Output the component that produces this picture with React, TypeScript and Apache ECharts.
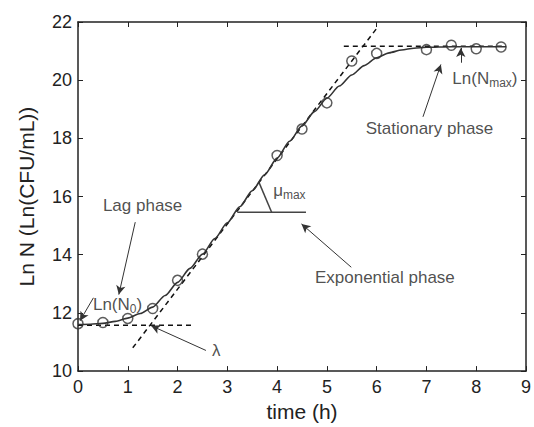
import React, { useEffect, useRef } from "react";
import * as echarts from "echarts";

// Observed data (circles)
const timeObs = [0, 0.5, 1, 1.5, 2, 2.5, 4, 4.5, 5, 5.5, 6, 7, 7.5, 8, 8.5];
const lnNObs = [11.63, 11.67, 11.81, 12.15, 13.12, 14.02, 17.41, 18.32, 19.22, 20.66, 20.92, 21.05, 21.2, 21.08, 21.14];

// Fitted growth curve (solid line)
const timeFit = [0, 0.25, 0.5, 0.75, 1, 1.25, 1.5, 1.75, 2, 2.25, 2.5, 2.75, 3, 3.25, 3.5, 3.75, 4, 4.25, 4.5, 4.75, 5, 5.25, 5.5, 5.75, 6, 6.25, 6.5, 6.75, 7, 7.5, 8, 8.6];
const lnNFit = [11.6, 11.61, 11.64, 11.71, 11.82, 11.98, 12.2, 12.6, 13.05, 13.53, 14.02, 14.56, 15.1, 15.65, 16.2, 16.75, 17.32, 17.9, 18.43, 18.92, 19.38, 19.8, 20.18, 20.5, 20.77, 20.94, 21.04, 21.1, 21.13, 21.15, 21.15, 21.15];

// Construction lines
const tangentX = [1.1, 6.0];
const tangentY = [10.8, 21.78];
const lagLineX = [0, 2.34];
const lagLineY = [11.58, 11.58];
const maxLineX = [5.34, 8.6];
const maxLineY = [21.17, 21.17];
const muBaseX = [3.2, 4.58];
const muBaseY = [15.46, 15.46];
const muArcX = [3.64, 3.89];
const muArcY = [16.47, 15.46];

// Axis ticks
const xTicks = { min: 0, max: 9, step: 1 };
const yTicks = { min: 10, max: 22, step: 2 };

// Annotation arrows: [fromX, fromY, toX, toY]
const arrows = [
  [1.15, 15.12, 0.82, 12.63],
  [0.31, 12.52, 0.04, 11.73],
  [2.57, 10.71, 1.47, 11.56],
  [5.49, 13.57, 4.49, 15.06],
  [6.93, 18.74, 7.29, 20.54],
  [7.69, 20.6, 7.69, 21.11],
];

// Annotation labels: [x, y, rich text]
const annotations: [number, number, string][] = [
  [0.5, 15.69, "{n|Lag phase}"],
  [0.3, 12.29, "{n|Ln(N}{s|0}{n|)}"],
  [2.69, 10.71, "{n|λ}"],
  [3.92, 16.22, "{n|μ}{s|max}"],
  [4.76, 13.23, "{n|Exponential phase}"],
  [5.78, 18.34, "{n|Stationary phase}"],
  [7.52, 20.06, "{n|Ln(N}{s|max}{n|)}"],
];

const FONT = "'Liberation Sans', Arial, Helvetica, sans-serif";
const INK = "#222";

const zip = (xs: number[], ys: number[]) => xs.map((x, i) => [x, ys[i]]);

export default function App() {
  const ref = useRef<HTMLDivElement>(null);

  useEffect(() => {
    if (!ref.current) return;
    const chart = echarts.init(ref.current, undefined, { renderer: "svg" });

    const axisLine = { show: true, onZero: false, lineStyle: { color: INK, width: 1.5 } };
    const axisTick = { show: true, inside: true, length: 5, lineStyle: { color: INK, width: 1 } };

    const dashed = (xs: number[], ys: number[]) => ({
      type: "line",
      data: zip(xs, ys),
      symbol: "none",
      silent: true,
      lineStyle: { color: "#111", width: 1.5, type: [5, 4] },
      z: 3,
    });
    const solid = (xs: number[], ys: number[]) => ({
      type: "line",
      data: zip(xs, ys),
      symbol: "none",
      silent: true,
      lineStyle: { color: "#444", width: 1.5 },
      z: 3,
    });

    chart.setOption({
      animation: false,
      grid: { left: 78, right: 4, top: 22, bottom: 51, containLabel: false },
      xAxis: [
        {
          type: "value",
          min: xTicks.min,
          max: xTicks.max,
          interval: xTicks.step,
          position: "bottom",
          axisLine,
          axisTick,
          splitLine: { show: false },
          axisLabel: { color: INK, fontSize: 18, margin: 7, fontFamily: FONT },
          name: "time (h)",
          nameLocation: "middle",
          nameGap: 29,
          nameTextStyle: { color: INK, fontSize: 21, fontFamily: FONT },
        },
        {
          type: "value",
          min: xTicks.min,
          max: xTicks.max,
          interval: xTicks.step,
          position: "top",
          axisLine,
          axisTick,
          splitLine: { show: false },
          axisLabel: { show: false },
        },
      ],
      yAxis: [
        {
          type: "value",
          min: yTicks.min,
          max: yTicks.max,
          interval: yTicks.step,
          position: "left",
          axisLine,
          axisTick,
          splitLine: { show: false },
          axisLabel: { color: INK, fontSize: 18, margin: 6, fontFamily: FONT },
          name: "Ln N (Ln(CFU/mL))",
          nameLocation: "middle",
          nameGap: 41,
          nameRotate: 90,
          nameTextStyle: { color: INK, fontSize: 21, fontFamily: FONT },
        },
        {
          type: "value",
          min: yTicks.min,
          max: yTicks.max,
          interval: yTicks.step,
          position: "right",
          axisLine,
          axisTick,
          splitLine: { show: false },
          axisLabel: { show: false },
        },
      ],
      series: [
        dashed(tangentX, tangentY),
        dashed(lagLineX, lagLineY),
        dashed(maxLineX, maxLineY),
        solid(muBaseX, muBaseY),
        solid(muArcX, muArcY),
        {
          type: "line",
          data: zip(timeFit, lnNFit),
          symbol: "none",
          smooth: 0.25,
          smoothMonotone: "x",
          silent: true,
          lineStyle: { color: "#333", width: 1.6 },
          z: 4,
          markLine: {
            silent: true,
            symbol: ["none", "arrow"],
            symbolSize: [7, 9],
            label: { show: false },
            lineStyle: { color: "#333", width: 1, type: "solid" },
            data: arrows.map((a) => [{ coord: [a[0], a[1]] }, { coord: [a[2], a[3]] }]),
          },
        },
        {
          type: "scatter",
          data: zip(timeObs, lnNObs),
          symbol: "circle",
          symbolSize: 10,
          silent: true,
          itemStyle: { color: "rgba(0,0,0,0)", borderColor: "#333", borderWidth: 1.5 },
          z: 5,
        },
        {
          type: "scatter",
          symbolSize: 0,
          silent: true,
          z: 6,
          data: annotations.map((a) => ({
            value: [a[0], a[1]],
            label: { formatter: a[2] },
          })),
          label: {
            show: true,
            position: "right",
            distance: 0,
            color: INK,
            fontFamily: FONT,
            fontSize: 17,
            rich: {
              n: { fontSize: 17, lineHeight: 22, color: INK, fontFamily: FONT },
              s: { fontSize: 12, lineHeight: 12, verticalAlign: "bottom", color: INK, fontFamily: FONT },
            },
          },
        },
      ],
    });

    return () => chart.dispose();
  }, []);

  return (
    <div
      ref={ref}
      style={{ position: "fixed", left: 0, top: 0, width: 534, height: 427, background: "#fff" }}
    />
  );
}
